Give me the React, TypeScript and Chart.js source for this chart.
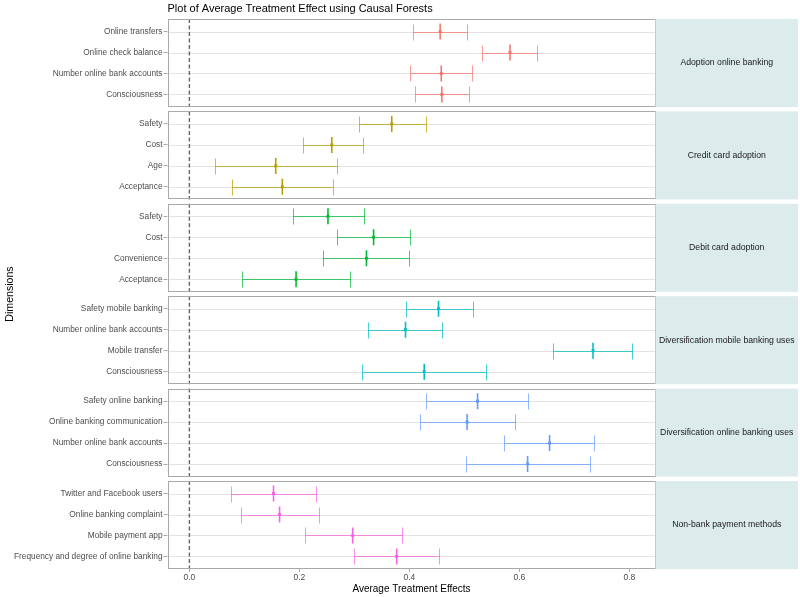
import React, { useEffect, useRef } from "react";
import { Chart, registerables } from "chart.js";

Chart.register(...registerables);

// ---------- data ----------
const panelNames = [
  "Adoption online banking",
  "Credit card adoption",
  "Debit card adoption",
  "Diversification mobile banking uses",
  "Diversification online banking uses",
  "Non-bank payment methods",
];
const panelColors = ["#F8766D", "#B79F00", "#00BA38", "#00BFC4", "#619CFF", "#F564E3"];

const dimsAdoption = ["Online transfers", "Online check balance", "Number online bank accounts", "Consciousness"];
const ateAdoption = [0.456, 0.583, 0.458, 0.459];
const lowAdoption = [0.407, 0.532, 0.401, 0.411];
const highAdoption = [0.505, 0.633, 0.514, 0.509];

const dimsCredit = ["Safety", "Cost", "Age", "Acceptance"];
const ateCredit = [0.368, 0.259, 0.157, 0.169];
const lowCredit = [0.308, 0.206, 0.046, 0.078];
const highCredit = [0.43, 0.316, 0.269, 0.261];

const dimsDebit = ["Safety", "Cost", "Convenience", "Acceptance"];
const ateDebit = [0.252, 0.335, 0.322, 0.194];
const lowDebit = [0.188, 0.269, 0.243, 0.096];
const highDebit = [0.317, 0.401, 0.4, 0.292];

const dimsMobile = ["Safety mobile banking", "Number online bank accounts", "Mobile transfer", "Consciousness"];
const ateMobile = [0.453, 0.393, 0.734, 0.427];
const lowMobile = [0.393, 0.325, 0.661, 0.313];
const highMobile = [0.516, 0.46, 0.805, 0.54];

const dimsOnline = ["Safety online banking", "Online banking communication", "Number online bank accounts", "Consciousness"];
const ateOnline = [0.524, 0.505, 0.655, 0.615];
const lowOnline = [0.43, 0.419, 0.573, 0.503];
const highOnline = [0.616, 0.593, 0.735, 0.729];

const dimsNonBank = ["Twitter and Facebook users", "Online banking complaint", "Mobile payment app", "Frequency and degree of online banking"];
const ateNonBank = [0.153, 0.164, 0.297, 0.377];
const lowNonBank = [0.076, 0.093, 0.21, 0.299];
const highNonBank = [0.23, 0.235, 0.387, 0.453];

const xTicks = [0, 0.2, 0.4, 0.6, 0.8];

const panelDims = [dimsAdoption, dimsCredit, dimsDebit, dimsMobile, dimsOnline, dimsNonBank];
const panelAte = [ateAdoption, ateCredit, ateDebit, ateMobile, ateOnline, ateNonBank];
const panelLow = [lowAdoption, lowCredit, lowDebit, lowMobile, lowOnline, lowNonBank];
const panelHigh = [highAdoption, highCredit, highDebit, highMobile, highOnline, highNonBank];

// ---------- layout constants ----------
const PANEL_H = 4.2; // rows incl. 0.6 expansion each side
const STEP = 4.41; // panel + gap
const Y_MAX = 5 * STEP + PANEL_H;
const rowY = (p: number, r: number) => p * STEP + 0.6 + r;

const FONT = "'Liberation Sans', Arial, sans-serif";

function alpha(hex: string, a: number) {
  const n = parseInt(hex.slice(1), 16);
  return `rgba(${(n >> 16) & 255},${(n >> 8) & 255},${n & 255},${a})`;
}

const facetPlugin = {
  id: "facets",
  beforeDatasetsDraw(chart: any) {
    const { ctx, chartArea, scales } = chart;
    const xs = scales.x;
    const ys = scales.y;
    const left = chartArea.left;
    const right = chartArea.right;
    const stripRight = chart.width - 2;
    panelNames.forEach((name, p) => {
      const top = ys.getPixelForValue(p * STEP);
      const bottom = ys.getPixelForValue(p * STEP + PANEL_H);
      ctx.save();
      ctx.fillStyle = "#ffffff";
      ctx.fillRect(left, top, right - left, bottom - top);
      // grid lines
      ctx.strokeStyle = "#e3e3e3";
      ctx.lineWidth = 1;
      for (let r = 0; r < panelDims[p].length; r++) {
        const y = Math.round(ys.getPixelForValue(rowY(p, r))) + 0.5;
        ctx.beginPath();
        ctx.moveTo(left, y);
        ctx.lineTo(right, y);
        ctx.stroke();
      }
      // zero line
      const x0 = xs.getPixelForValue(0);
      ctx.strokeStyle = "#666666";
      ctx.lineWidth = 1.4;
      ctx.setLineDash([4, 2.5]);
      ctx.beginPath();
      ctx.moveTo(x0, top);
      ctx.lineTo(x0, bottom);
      ctx.stroke();
      ctx.setLineDash([]);
      // border
      ctx.strokeStyle = "#aaaaaa";
      ctx.lineWidth = 1;
      ctx.strokeRect(Math.round(left) + 0.5, Math.round(top) + 0.5, Math.round(right - left) - 1, Math.round(bottom - top) - 1);
      // strip
      ctx.fillStyle = "#dcebeb";
      ctx.fillRect(right, top, stripRight - right, bottom - top);
      ctx.fillStyle = "#1a1a1a";
      ctx.font = `8.7px ${FONT}`;
      ctx.textAlign = "center";
      ctx.textBaseline = "middle";
      ctx.fillText(name, (right + stripRight) / 2, (top + bottom) / 2);
      ctx.restore();
    });
    // error bars
    chart.data.datasets.forEach((ds: any, di: number) => {
      const col = alpha(panelColors[di], 0.72);
      ctx.save();
      ctx.strokeStyle = col;
      ctx.lineWidth = 1;
      ds.data.forEach((d: any) => {
        const y = Math.round(ys.getPixelForValue(d.y)) + 0.5;
        const a = Math.round(xs.getPixelForValue(d.xMin)) + 0.5;
        const b = Math.round(xs.getPixelForValue(d.xMax)) + 0.5;
        ctx.beginPath();
        ctx.moveTo(a, y);
        ctx.lineTo(b, y);
        ctx.moveTo(a, y - 8);
        ctx.lineTo(a, y + 8);
        ctx.moveTo(b, y - 8);
        ctx.lineTo(b, y + 8);
        ctx.stroke();
      });
      ctx.restore();
    });
  },
  afterDatasetsDraw(chart: any) {
    const { ctx } = chart;
    chart.data.datasets.forEach((ds: any, di: number) => {
      const meta = chart.getDatasetMeta(di);
      ctx.save();
      ctx.fillStyle = panelColors[di];
      meta.data.forEach((el: any) => {
        ctx.fillRect(el.x - 1.5, el.y - 1.5, 3, 3);
      });
      ctx.restore();
    });
  },
};

export default function App() {
  const ref = useRef<HTMLCanvasElement>(null);
  useEffect(() => {
    if (!ref.current) return;
    const allLabels: string[] = [];
    const allTicks: number[] = [];
    panelDims.forEach((dims, p) =>
      dims.forEach((lab, r) => {
        allLabels.push(lab);
        allTicks.push(rowY(p, r));
      })
    );
    const datasets = panelNames.map((name, p) => ({
      label: name,
      data: panelDims[p].map((_, r) => ({
        x: panelAte[p][r],
        y: rowY(p, r),
        xMin: panelLow[p][r],
        xMax: panelHigh[p][r],
      })),
      pointStyle: "line",
      rotation: 90,
      pointRadius: 8,
      pointHoverRadius: 8,
      borderWidth: 1.6,
      pointBorderWidth: 1.6,
      borderColor: panelColors[p],
      backgroundColor: panelColors[p],
      showLine: false,
    }));
    const chart = new Chart(ref.current, {
      type: "scatter",
      data: { datasets: datasets as any },
      plugins: [facetPlugin],
      options: {
        animation: false,
        responsive: true,
        maintainAspectRatio: false,
        layout: { padding: { left: 0, right: 144.5, top: 0, bottom: 0 } },
        plugins: {
          legend: { display: false },
          tooltip: { enabled: false },
          title: {
            display: true,
            text: "Plot of Average Treatment Effect using Causal Forests",
            align: "start",
            fullSize: false,
            color: "#000000",
            font: { family: FONT, size: 11, weight: "normal" },
            padding: { top: 2.5, bottom: 3.3 },
          },
        },
        scales: {
          x: {
            type: "linear",
            min: -0.0398,
            max: 0.8476,
            afterFit: (s: any) => {
              s.height = 28;
            },
            afterBuildTicks: (s: any) => {
              s.ticks = xTicks.map((v) => ({ value: v }));
            },
            grid: { drawOnChartArea: false, drawTicks: true, tickLength: 3, color: "#aaaaaa" },
            border: { display: false },
            ticks: {
              color: "#4d4d4d",
              font: { family: FONT, size: 8.5 },
              padding: 1,
              maxRotation: 0,
              callback: (v: any) => Number(v).toFixed(1),
            },
            title: {
              display: true,
              text: "Average Treatment Effects",
              color: "#000000",
              font: { family: FONT, size: 10 },
              padding: { top: 0, bottom: 2 },
            },
          },
          y: {
            type: "linear",
            reverse: true,
            min: 0,
            max: Y_MAX,
            afterFit: (s: any) => {
              s.width = 167.5;
            },
            afterBuildTicks: (s: any) => {
              s.ticks = allTicks.map((v) => ({ value: v }));
            },
            grid: { drawOnChartArea: false, drawTicks: true, tickLength: 4, color: "#aaaaaa" },
            border: { display: false },
            ticks: {
              color: "#4d4d4d",
              font: { family: FONT, size: 8.3 },
              padding: 1,
              autoSkip: false,
              callback: (_v: any, i: number) => allLabels[i],
            },
            title: {
              display: true,
              text: "Dimensions",
              color: "#000000",
              font: { family: FONT, size: 10.6 },
              padding: { top: 4, bottom: 4 },
            },
          },
        },
      },
    });
    return () => chart.destroy();
  }, []);
  return (
    <div style={{ position: "absolute", left: 0, top: 0, width: 800, height: 597, background: "#ffffff" }}>
      <canvas ref={ref} />
    </div>
  );
}
